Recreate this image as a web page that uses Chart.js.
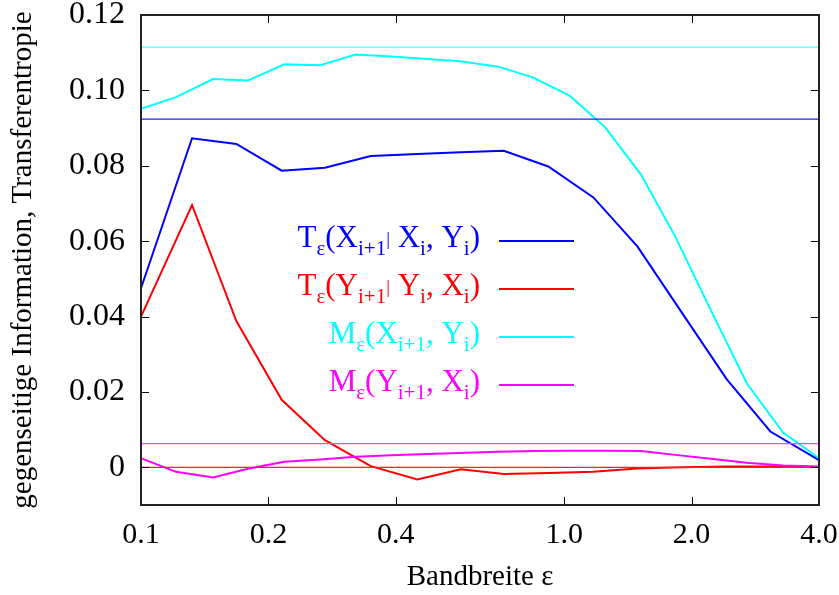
<!DOCTYPE html>
<html>
<head>
<meta charset="utf-8">
<script src="https://cdn.jsdelivr.net/npm/chart.js@4/dist/chart.umd.min.js"></script>
<style>
  html, body { margin: 0; padding: 0; background: #fff; }
  #wrap { width: 839px; height: 595px; }
</style>
</head>
<body>
<div id="wrap"><canvas id="chart" width="839" height="595"></canvas></div>
<script>
// bandwidth grids (the M series were sampled finer than the T series)
const epsT = [0.1, 0.132, 0.168, 0.215, 0.272, 0.349, 0.45, 0.57, 0.72, 0.917, 1.172, 1.489, 1.9, 2.42, 3.07, 4.0];
const epsM = [0.1, 0.121, 0.148, 0.179, 0.218, 0.265, 0.322, 0.39, 0.475, 0.567, 0.699, 0.845, 1.03, 1.25, 1.52, 1.83, 2.22, 2.7, 3.29, 4.0];

const tXY = [0.0475, 0.0873, 0.0858, 0.0787, 0.0795, 0.0826, 0.0831, 0.0836, 0.0840, 0.0798, 0.0716, 0.0586, 0.0409, 0.0234, 0.0095, 0.0019];
const tYX = [0.0400, 0.0696, 0.0388, 0.0179, 0.0072, 0.0003, -0.0032, -0.0005, -0.0018, -0.0015, -0.0012, -0.0003, 0.0000, 0.0002, 0.0002, 0.0001];
const mXY = [0.0951, 0.0982, 0.1030, 0.1026, 0.1069, 0.1067, 0.1095, 0.1090, 0.1083, 0.1077, 0.1063, 0.1034, 0.0986, 0.0902, 0.0776, 0.0612, 0.0417, 0.0223, 0.0092, 0.0024];
const mYX = [0.0024, -0.0012, -0.0027, -0.0004, 0.0015, 0.0021, 0.0028, 0.0032, 0.0035, 0.0038, 0.0041, 0.0043, 0.0044, 0.0044, 0.0043, 0.0033, 0.0023, 0.0012, 0.0005, 0.0002];

// constant levels (thin horizontal lines)
const levelTXY = 0.0924;
const levelTYX = 0.0000;
const levelMXY = 0.1115;
const levelMYX = 0.0063;

const xTicks = [0.1, 0.2, 0.4, 1.0, 2.0, 4.0];
const xTickLabels = ['0.1', '0.2', '0.4', '1.0', '2.0', '4.0'];
const yTicks = [0, 0.02, 0.04, 0.06, 0.08, 0.10, 0.12];
const yTickLabels = ['0', '0.02', '0.04', '0.06', '0.08', '0.10', '0.12'];

const colors = ['#0000ff', '#ff0000', '#00ffff', '#ff00ff'];

// legend text pieces: [text, style] with 0 = normal, 1 = subscript, 2 = small bar
const legendLabels = [
  [['T', 0], ['ε', 1], ['(X', 0], ['i+1', 1], ['|', 2], [' X', 0], ['i', 1], [', Y', 0], ['i', 1], [')', 0]],
  [['T', 0], ['ε', 1], ['(Y', 0], ['i+1', 1], ['|', 2], [' Y', 0], ['i', 1], [', X', 0], ['i', 1], [')', 0]],
  [['M', 0], ['ε', 1], ['(X', 0], ['i+1', 1], [', Y', 0], ['i', 1], [')', 0]],
  [['M', 0], ['ε', 1], ['(Y', 0], ['i+1', 1], [', X', 0], ['i', 1], [')', 0]]
];

const serif = "'Liberation Serif', 'DejaVu Serif', serif";

function pts(xs, ys) {
  return xs.map((x, i) => ({ x: x, y: ys[i] }));
}
function level(v) {
  return [{ x: xTicks[0], y: v }, { x: xTicks[xTicks.length - 1], y: v }];
}

const series = (data, color) => ({
  data: data, borderColor: color, borderWidth: 2, pointRadius: 0, fill: false, tension: 0
});
const hline = (v, color) => ({
  data: level(v), borderColor: color, borderWidth: 1.3, pointRadius: 0, fill: false
});

// box with inward tick marks, then the legend with subscripts
const overlay = {
  id: 'overlay',
  afterDraw(chart) {
    const ctx = chart.ctx;
    const a = chart.chartArea;
    const sx = chart.scales.x, sy = chart.scales.y;
    ctx.save();

    ctx.fillStyle = '#000';
    const L = Math.round(a.left), R = Math.round(a.right);
    const T = Math.round(a.top), B = Math.round(a.bottom);
    for (const v of xTicks) {
      const px = Math.round(sx.getPixelForValue(v));
      ctx.fillRect(px, B - 8, 1, 8);
      ctx.fillRect(px, T, 1, 8);
    }
    for (const v of yTicks) {
      const py = Math.round(sy.getPixelForValue(v));
      ctx.fillRect(L, py, 8, 1);
      ctx.fillRect(R - 8, py, 8, 1);
    }
    ctx.fillStyle = '#222';
    ctx.fillRect(L - 1, T - 1, R - L + 2, 2);
    ctx.fillRect(L - 1, B - 1, R - L + 2, 2);
    ctx.fillRect(L - 1, T - 1, 2, B - T + 2);
    ctx.fillRect(R - 1, T - 1, 2, B - T + 2);

    const fonts = ['31px ' + serif, '21px ' + serif, '19px ' + serif];
    const shift = [0, 8, -2];
    const right = a.left + 339, top = a.top + 232, step = 48;
    legendLabels.forEach((parts, i) => {
      const base = top + i * step;
      let w = 0;
      parts.forEach(p => { ctx.font = fonts[p[1]]; w += ctx.measureText(p[0]).width; });
      let x = right - w;
      ctx.fillStyle = colors[i];
      ctx.textBaseline = 'alphabetic';
      ctx.textAlign = 'left';
      parts.forEach(p => {
        ctx.font = fonts[p[1]];
        ctx.fillText(p[0], x, base + shift[p[1]]);
        x += ctx.measureText(p[0]).width;
      });
      ctx.fillRect(right + 19, base - 7, 75, 2);
    });
    ctx.restore();
  }
};

new Chart(document.getElementById('chart'), {
  type: 'line',
  data: {
    datasets: [
      hline(levelMXY, '#44ffff'),
      hline(levelTXY, '#2020ee'),
      hline(levelMYX, '#ff44ff'),
      hline(levelTYX, '#ff2020'),
      series(pts(epsM, mXY), colors[2]),
      series(pts(epsT, tXY), colors[0]),
      series(pts(epsM, mYX), colors[3]),
      series(pts(epsT, tYX), colors[1])
    ]
  },
  options: {
    responsive: false,
    animation: false,
    layout: { padding: { top: 15, right: 20, left: 0, bottom: 0 } },
    plugins: { legend: { display: false }, tooltip: { enabled: false } },
    scales: {
      x: {
        type: 'logarithmic',
        min: 0.1,
        max: 4.0,
        afterBuildTicks: s => { s.ticks = xTicks.map(v => ({ value: v })); },
        afterFit: s => { s.height = 90; s.paddingLeft = 0; s.paddingRight = 0; },
        ticks: {
          autoSkip: false,
          maxRotation: 0,
          padding: 4,
          color: '#000',
          font: { family: serif, size: 30 },
          callback: (v) => xTickLabels[xTicks.indexOf(v)]
        },
        grid: { display: false },
        border: { display: false },
        title: {
          display: true,
          text: 'Bandbreite ε',
          color: '#000',
          font: { family: serif, size: 29 },
          padding: { top: 0, bottom: 0 }
        }
      },
      y: {
        min: -0.01,
        max: 0.12,
        afterBuildTicks: s => { s.ticks = yTicks.map(v => ({ value: v })); },
        afterFit: s => { s.width = 141; s.paddingTop = 0; s.paddingBottom = 0; },
        ticks: {
          padding: 8,
          color: '#000',
          font: { family: serif, size: 32 },
          callback: (v) => yTickLabels[yTicks.indexOf(v)]
        },
        grid: { display: false },
        border: { display: false },
        title: {
          display: true,
          text: 'gegenseitige Information, Transferentropie',
          color: '#000',
          font: { family: serif, size: 29 },
          padding: { top: 6, bottom: 0 }
        }
      }
    }
  },
  plugins: [overlay]
});
</script>
</body>
</html>
